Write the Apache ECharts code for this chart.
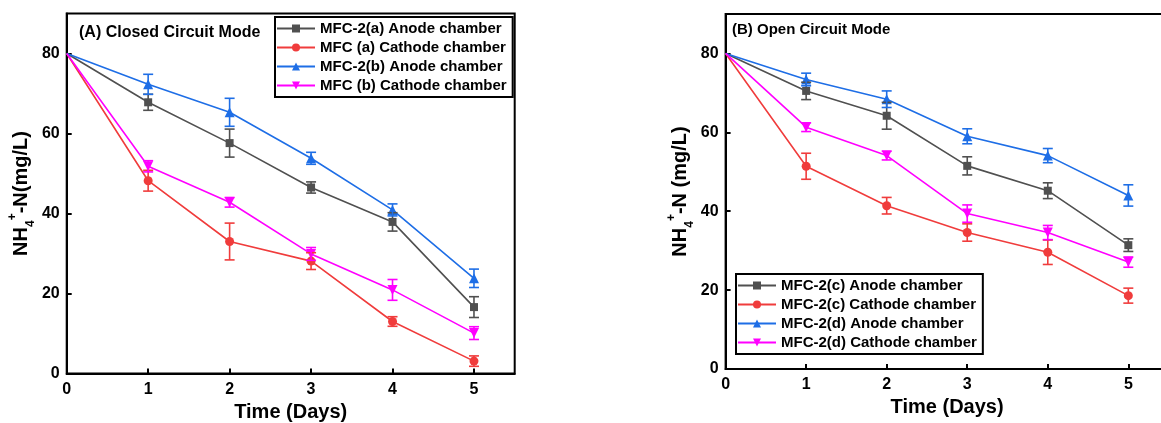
<!DOCTYPE html>
<html>
<head>
<meta charset="utf-8">
<script src="https://cdn.jsdelivr.net/npm/echarts@6/dist/echarts.min.js"></script>
<style>
html,body{margin:0;padding:0;background:#fff;}
#chart{width:1161px;height:423px;}
</style>
</head>
<body>
<div id="chart"></div>
<script>
// ---- data ----
const days = [0, 1, 2, 3, 4, 5];
const xTicks = [0, 1, 2, 3, 4, 5];
const yTicks = [0, 20, 40, 60, 80];

const titleA = '(A) Closed Circuit Mode';
const titleB = '(B) Open Circuit Mode';

const namesA = ['MFC-2(a) Anode chamber', 'MFC (a) Cathode chamber', 'MFC-2(b) Anode chamber', 'MFC (b) Cathode chamber'];
const a_anode   = [80, 67.8, 57.6, 46.5, 37.9, 16.6];
const a_anodeE  = [0, 2.0, 3.5, 1.4, 2.3, 2.6];
const a_cath    = [80, 48.2, 33.0, 28.1, 13.0, 3.1];
const a_cathE   = [0, 2.6, 4.6, 2.1, 1.2, 1.3];
const b_anode   = [80, 72.3, 65.3, 53.8, 40.9, 23.8];
const b_anodeE  = [0, 2.5, 3.5, 1.5, 1.5, 2.3];
const b_cath    = [80, 51.8, 42.8, 29.9, 20.9, 10.1];
const b_cathE   = [0, 1.4, 1.2, 1.6, 2.6, 1.6];

const namesB = ['MFC-2(c) Anode chamber', 'MFC-2(c) Cathode chamber', 'MFC-2(d) Anode chamber', 'MFC-2(d) Cathode chamber'];
const c_anode   = [80, 70.5, 64.2, 51.5, 45.2, 31.4];
const c_anodeE  = [0, 2.2, 3.4, 2.3, 2.0, 1.6];
const c_cath    = [80, 51.4, 41.4, 34.6, 29.6, 18.6];
const c_cathE   = [0, 3.3, 2.1, 2.2, 3.1, 1.9];
const d_anode   = [80, 73.4, 68.4, 59.0, 54.1, 44.0];
const d_anodeE  = [0, 1.6, 2.1, 1.9, 1.8, 2.7];
const d_cath    = [80, 61.3, 54.1, 39.4, 34.6, 27.1];
const d_cathE   = [0, 1.1, 1.1, 2.2, 1.8, 1.3];

// ---- styling ----
const FONT = '"Liberation Sans", Arial, sans-serif';
const colors = ['#505050', '#F03C3C', '#1E6EE6', '#FF00FF'];
const symbols = ['rect', 'circle', 'triangle', 'triangle'];
const symbolRot = [0, 0, 0, 180];
const symbolSizes = [8, 9, 10, 10];

const chart = echarts.init(document.getElementById('chart'), null, {renderer: 'canvas'});

function xAxisCfg(gridIndex, gap) {
  return {
    type: 'value', gridIndex, min: 0, max: 5.5,
    name: 'Time (Days)', nameLocation: 'middle', nameGap: gap,
    nameTextStyle: {fontFamily: FONT, fontWeight: 'bold', fontSize: 20, color: '#000'},
    axisLine: {show: true, lineStyle: {color: '#000', width: 2}},
    axisTick: {show: true, inside: true, length: 5, lineStyle: {color: '#000', width: 2}, customValues: xTicks},
    axisLabel: {fontFamily: FONT, fontWeight: 'bold', fontSize: 16, color: '#000', margin: 8, customValues: xTicks},
    splitLine: {show: false}
  };
}
function yAxisCfg(gridIndex, nameText) {
  return {
    type: 'value', gridIndex, min: 0, max: 90,
    name: nameText, nameLocation: 'middle', nameGap: 30,
    nameTextStyle: {
      fontFamily: FONT, fontWeight: 'bold', fontSize: 20, color: '#000',
      rich: {
        n: {fontFamily: FONT, fontWeight: 'bold', fontSize: 20, color: '#000', lineHeight: 30},
        sub: {fontFamily: FONT, fontWeight: 'bold', fontSize: 12, color: '#000', lineHeight: 12, verticalAlign: 'bottom'},
        sup: {fontFamily: FONT, fontWeight: 'bold', fontSize: 12, color: '#000', lineHeight: 12, verticalAlign: 'top'}
      }
    },
    axisLine: {show: true, lineStyle: {color: '#000', width: 2}},
    axisTick: {show: true, inside: true, length: 5, lineStyle: {color: '#000', width: 2}, customValues: yTicks},
    axisLabel: {fontFamily: FONT, fontWeight: 'bold', fontSize: 16, color: '#000', margin: 7, customValues: yTicks},
    splitLine: {show: false}
  };
}

function lineSeries(name, vals, idx, axisIdx) {
  return {
    type: 'line', name, xAxisIndex: axisIdx, yAxisIndex: axisIdx,
    data: days.map((d, i) => [d, vals[i]]),
    symbol: symbols[idx], symbolRotate: symbolRot[idx],
    symbolSize: (v, p) => p.dataIndex === 0 ? 0 : symbolSizes[idx],
    showAllSymbol: true,
    lineStyle: {color: colors[idx], width: 1.6},
    itemStyle: {color: colors[idx]},
    emphasis: {disabled: true},
    animation: false, z: 3
  };
}
function errSeries(vals, errs, idx, axisIdx) {
  return {
    type: 'custom', xAxisIndex: axisIdx, yAxisIndex: axisIdx,
    itemStyle: {color: colors[idx]},
    data: days.map((d, i) => [d, vals[i] - errs[i], vals[i] + errs[i]]),
    renderItem: function (params, api) {
      const x = api.value(0), lo = api.value(1), hi = api.value(2);
      if (hi - lo <= 0) return null;
      const p1 = api.coord([x, hi]);
      const p2 = api.coord([x, lo]);
      const w = 5;
      const style = {stroke: colors[idx], lineWidth: 1.6, fill: null};
      return {
        type: 'group',
        children: [
          {type: 'line', shape: {x1: p1[0], y1: p1[1], x2: p2[0], y2: p2[1]}, style},
          {type: 'line', shape: {x1: p1[0] - w, y1: p1[1], x2: p1[0] + w, y2: p1[1]}, style},
          {type: 'line', shape: {x1: p2[0] - w, y1: p2[1], x2: p2[0] + w, y2: p2[1]}, style}
        ]
      };
    },
    animation: false, silent: true, z: 4
  };
}

const legendCfg = (data, left, top) => ({
  data, orient: 'vertical', left, top,
  itemWidth: 38, itemHeight: 10, itemGap: 0,
  padding: [2, 6, 2, 1],
  borderColor: '#000', borderWidth: 2,
  selectedMode: false,
  textStyle: {fontFamily: FONT, fontWeight: 'bold', fontSize: 15, color: '#000', lineHeight: 19}
});

const seriesA = [a_anode, a_cath, b_anode, b_cath];
const errA = [a_anodeE, a_cathE, b_anodeE, b_cathE];
const seriesB = [c_anode, c_cath, d_anode, d_cath];
const errB = [c_anodeE, c_cathE, d_anodeE, d_cathE];

const series = [];
seriesA.forEach((v, i) => series.push(lineSeries(namesA[i], v, i, 0)));
seriesA.forEach((v, i) => series.push(errSeries(v, errA[i], i, 0)));
seriesB.forEach((v, i) => series.push(lineSeries(namesB[i], v, i, 1)));
seriesB.forEach((v, i) => series.push(errSeries(v, errB[i], i, 1)));

chart.setOption({
  backgroundColor: '#fff',
  animation: false,
  title: [
    {text: titleA, left: 79, top: 25, padding: 0, textStyle: {fontFamily: FONT, fontWeight: 'bold', fontSize: 16, color: '#000'}},
    {text: titleB, left: 732, top: 22, padding: 0, textStyle: {fontFamily: FONT, fontWeight: 'bold', fontSize: 15, color: '#000'}}
  ],
  grid: [
    {left: 66.7, top: 13.5, width: 448, height: 360, show: true, borderColor: '#000', borderWidth: 2, backgroundColor: 'transparent', outerBoundsMode: 'none', containLabel: false},
    {left: 725.6, top: 14, width: 443, height: 355, show: true, borderColor: '#000', borderWidth: 2, backgroundColor: 'transparent', outerBoundsMode: 'none', containLabel: false}
  ],
  xAxis: [xAxisCfg(0, 29), xAxisCfg(1, 27)],
  yAxis: [
    yAxisCfg(0, '{n|NH}{sub|4}{sup|+}{n|-N(mg/L)}'),
    yAxisCfg(1, '{n|NH}{sub|4}{sup|+}{n|-N (mg/L)}')
  ],
  legend: [legendCfg(namesA, 275, 17), legendCfg(namesB, 736, 274)],
  series
});
</script>
</body>
</html>
